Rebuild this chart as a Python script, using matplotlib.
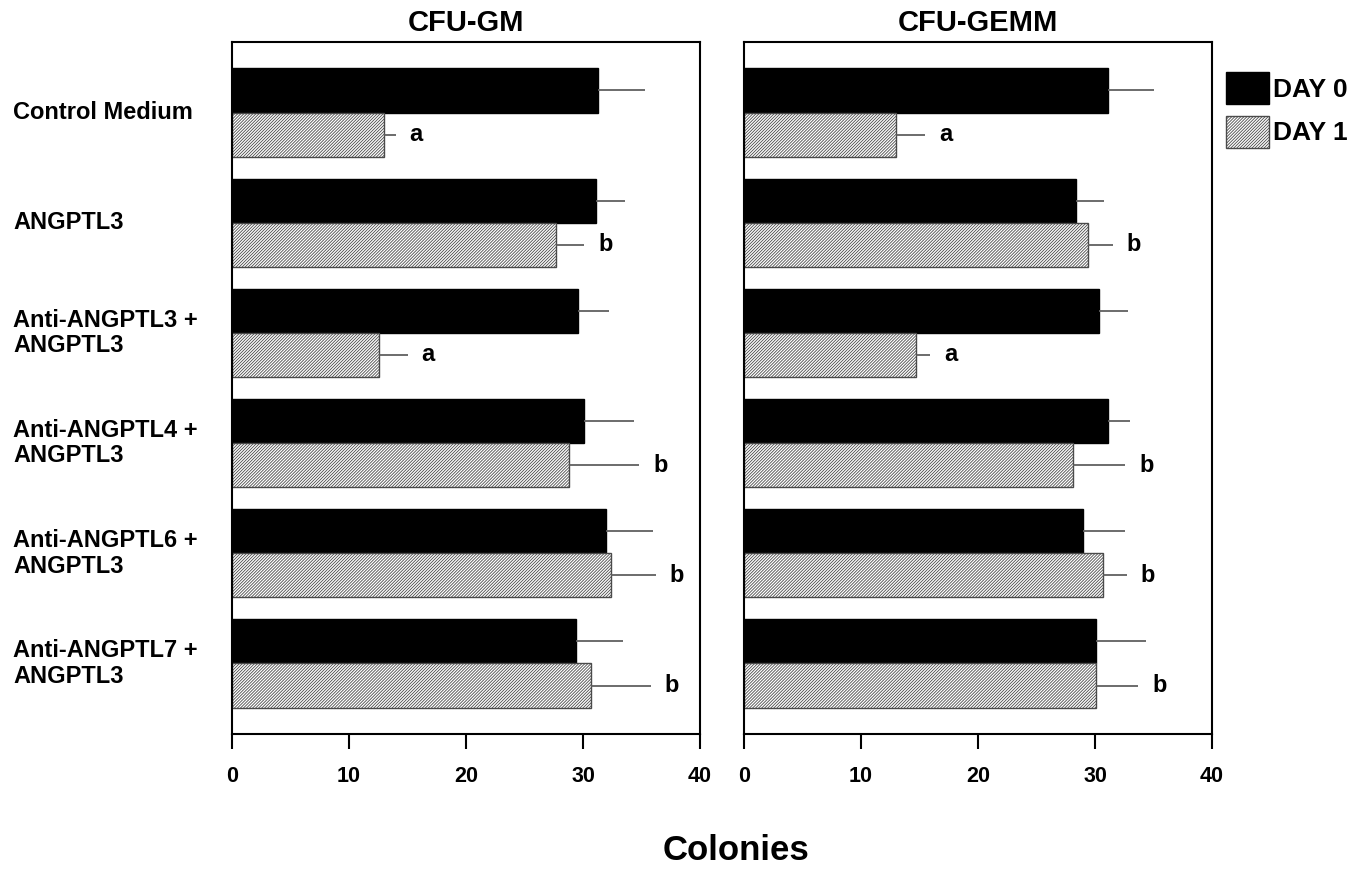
import numpy as np
import matplotlib
matplotlib.use("Agg")
from matplotlib import pyplot as plt
from matplotlib.patches import Patch
import matplotlib.transforms as mtransforms

plt.rcParams['font.family'] = ['Liberation Sans', 'DejaVu Sans']
plt.rcParams['font.weight'] = 'bold'
plt.rcParams['hatch.linewidth'] = 0.6

# data
groups = ['Control Medium', 'ANGPTL3', 'Anti-ANGPTL3 +\nANGPTL3', 'Anti-ANGPTL4 +\nANGPTL3',
          'Anti-ANGPTL6 +\nANGPTL3', 'Anti-ANGPTL7 +\nANGPTL3']
panels = ['CFU-GM', 'CFU-GEMM']

gm_day0 = [31.3, 31.1, 29.6, 30.1, 32.0, 29.4]
gm_day0_err = [4.0, 2.5, 2.6, 4.3, 4.0, 4.0]
gm_day1 = [13.0, 27.7, 12.6, 28.8, 32.4, 30.7]
gm_day1_err = [1.0, 2.4, 2.4, 6.0, 3.8, 5.1]
gm_sig = ['a', 'b', 'a', 'b', 'b', 'b']

gemm_day0 = [31.1, 28.4, 30.3, 31.1, 29.0, 30.1]
gemm_day0_err = [3.9, 2.4, 2.5, 1.9, 3.6, 4.3]
gemm_day1 = [13.0, 29.4, 14.7, 28.1, 30.7, 30.1]
gemm_day1_err = [2.5, 2.1, 1.2, 4.5, 2.0, 3.6]
gemm_sig = ['a', 'b', 'a', 'b', 'b', 'b']

xticks = [0, 10, 20, 30, 40]

HATCH = '/' * 11
W, H = 1370, 869
fig = plt.figure(figsize=(W / 100, H / 100), dpi=100)

ax_l = fig.add_axes([232 / W, 1 - 734 / H, 468 / W, 692 / H])
ax_r = fig.add_axes([744 / W, 1 - 734 / H, 468 / W, 692 / H])

y = np.arange(len(groups))
bh = 0.4

datasets = [
    (ax_l, gm_day0, gm_day0_err, gm_day1, gm_day1_err, gm_sig),
    (ax_r, gemm_day0, gemm_day0_err, gemm_day1, gemm_day1_err, gemm_sig),
]

for (ax, d0, e0, d1, e1, sig), title in zip(datasets, panels):
    ax.barh(y - bh / 2, d0, height=bh, color='black', edgecolor='black', lw=1)
    ax.barh(y + bh / 2, d1, height=bh, color='white', edgecolor='#4a4a4a',
            hatch=HATCH, lw=1)
    # one-sided error bars
    ax.errorbar(d0, y - bh / 2, xerr=[np.zeros(len(d0)), e0], fmt='none',
                ecolor='#606060', elinewidth=1.3, capsize=0)
    ax.errorbar(d1, y + bh / 2, xerr=[np.zeros(len(d1)), e1], fmt='none',
                ecolor='#606060', elinewidth=1.3, capsize=0)
    for yi, v, e, s in zip(y, d1, e1, sig):
        ax.annotate(s, (v + e, yi + bh / 2), xytext=(10, 0), textcoords='offset points',
                    ha='left', va='center', fontsize=17, fontweight='bold')
    ax.set_xlim(0, 40)
    ax.set_ylim(5.64, -0.64)
    ax.set_xticks(xticks)
    ax.set_yticks([])
    ax.tick_params(axis='x', direction='out', length=11, width=1.5, pad=12,
                   labelsize=15.5)
    for sp in ax.spines.values():
        sp.set_linewidth(1.5)
    ax.set_title(title, fontsize=21, fontweight='bold', pad=8)

# group labels, left aligned at the figure edge
trans = mtransforms.blended_transform_factory(fig.transFigure, ax_l.transData)
for yi, g in zip(y, groups):
    ax_l.text(13 / W, yi, g, transform=trans, ha='left', va='center',
              fontsize=17, fontweight='bold', linespacing=1.15)

fig.text(736 / W, 1 - 850 / H, 'Colonies', ha='center', va='center',
         fontsize=25, fontweight='bold')

handles = [Patch(facecolor='black', edgecolor='black', label='DAY 0'),
           Patch(facecolor='white', edgecolor='#4a4a4a', hatch=HATCH, label='DAY 1')]
fig.legend(handles=handles, loc='upper left', bbox_to_anchor=(1226 / W, 1 - 72 / H),
           frameon=False, borderpad=0, borderaxespad=0, handlelength=1.63,
           handleheight=1.48, handletextpad=0.15, labelspacing=0.45,
           prop={'size': 19, 'weight': 'bold'})

fig.savefig('out.png', dpi=100)
